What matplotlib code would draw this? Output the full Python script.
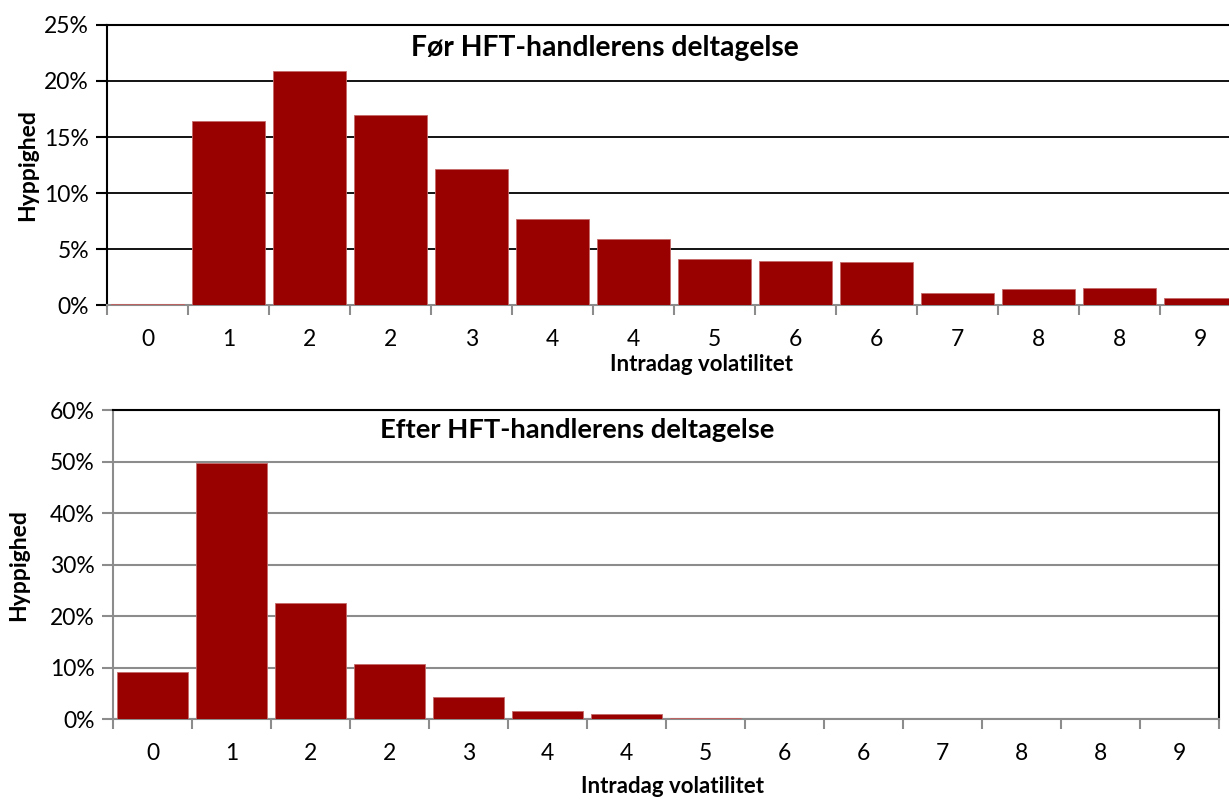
import matplotlib.pyplot as plt
import numpy as np

# Fordeling af intradag volatilitet foer og efter HFT-handleren
kategorier = ['0', '1', '2', '2', '3', '4', '4', '5', '6', '6', '7', '8', '8', '9']
foer = [0.1, 16.4, 20.9, 17.0, 12.1, 7.7, 5.9, 4.1, 3.9, 3.8, 1.05, 1.45, 1.55, 0.65]
efter = [9.1, 49.8, 22.6, 10.8, 4.4, 1.6, 1.0, 0.2, 0.1, 0.0, 0.0, 0.0, 0.0, 0.0]

plt.rcParams['font.family'] = ['Lato', 'DejaVu Sans']
rod = '#990000'
graa = '#8c8c8c'

fig = plt.figure(figsize=(12.29, 8.01), dpi=100)


def histogram(ax, vaerdier, ymax, gitter, titel, titel_pos, titel_str, xlabel_pos, ylabel_pos):
    x = np.arange(len(kategorier))
    ax.bar(x, vaerdier, width=0.9, color=rod, edgecolor='#c46a6a', linewidth=0.6, zorder=3)
    ax.set_xlim(-0.5, len(kategorier) - 0.5)
    ax.set_ylim(0, ymax)
    ax.set_yticks(np.arange(0, ymax + 1, gitter))
    ax.set_yticklabels(['{:d}%'.format(int(v)) for v in np.arange(0, ymax + 1, gitter)])
    # etiketter midt paa kategorien, streger mellem kategorierne
    ax.set_xticks(x)
    ax.set_xticklabels(kategorier)
    ax.set_xticks(np.arange(-0.5, len(kategorier)), minor=True)
    ax.tick_params(axis='x', which='major', length=0, pad=17, labelsize=16.5)
    ax.tick_params(axis='x', which='minor', length=7, width=1.5, color=graa, direction='out')
    ax.tick_params(axis='y', length=8, width=1.5, pad=5, labelsize=16.5)
    ax.text(titel_pos[0], titel_pos[1], titel, transform=ax.transAxes,
            ha='center', va='center', fontsize=titel_str, fontweight='bold')
    ax.text(xlabel_pos[0], xlabel_pos[1], 'Intradag volatilitet', transform=ax.transAxes,
            ha='center', va='center', fontsize=16, fontweight='bold')
    ax.text(ylabel_pos[0], ylabel_pos[1], 'Hyppighed', transform=ax.transAxes,
            ha='center', va='center', fontsize=16.5, fontweight='bold', rotation=90)
    ax.set_axisbelow(True)


# Foer HFT
ax1 = fig.add_axes([0.0871, 0.6192, 0.9227, 0.3496])
histogram(ax1, foer, 25, 5, 'Før HFT-handlerens deltagelse',
          (0.439, 0.918), 20.3, (0.524, -0.212), (-0.0697, 0.5))
ax1.yaxis.grid(True, color='black', linewidth=1.3)
ax1.spines['top'].set_linewidth(1.5)
ax1.spines['left'].set_linewidth(1.5)
ax1.spines['bottom'].set_color(graa)
ax1.spines['bottom'].set_linewidth(1.5)
ax1.spines['right'].set_visible(False)
ax1.tick_params(axis='y', color='black')

# Efter HFT
ax2 = fig.add_axes([0.0919, 0.102, 0.8999, 0.386])
histogram(ax2, efter, 60, 10, 'Efter HFT-handlerens deltagelse',
          (0.420, 0.935), 19.7, (0.506, -0.216), (-0.085, 0.499))
ax2.yaxis.grid(True, color=graa, linewidth=1.5)
ax2.spines['top'].set_linewidth(1.5)
ax2.spines['right'].set_linewidth(1.5)
ax2.spines['left'].set_color(graa)
ax2.spines['left'].set_linewidth(1.5)
ax2.spines['bottom'].set_color(graa)
ax2.spines['bottom'].set_linewidth(1.5)
ax2.tick_params(axis='y', color=graa)

plt.savefig('out.png', dpi=100)
